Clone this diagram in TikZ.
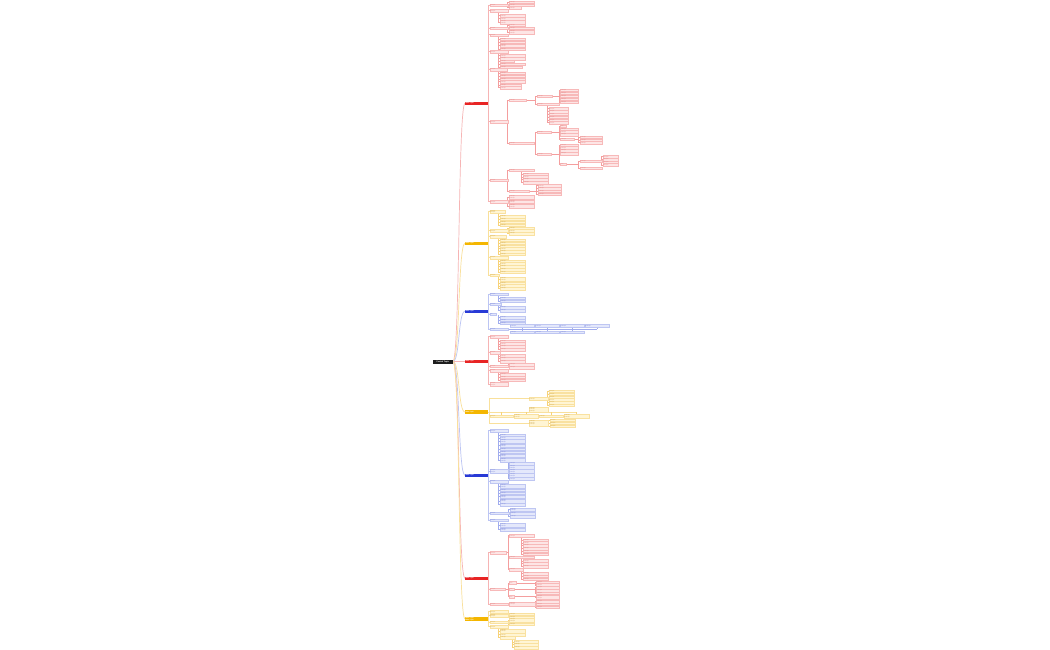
\documentclass[tikz,border=0pt]{standalone}
\usepackage{fontspec}
\setmainfont{Liberation Sans}
\pgfdeclarelayer{bg}
\pgfsetlayers{bg,main}
\definecolor{rM}{RGB}{232,36,36}
\definecolor{rF}{RGB}{253,229,229}
\definecolor{rD}{RGB}{247,185,185}
\definecolor{rT}{RGB}{246,180,180}
\definecolor{rL}{RGB}{244,158,158}
\definecolor{rX}{RGB}{222,135,135}
\definecolor{yM}{RGB}{244,182,0}
\definecolor{yF}{RGB}{255,245,212}
\definecolor{yD}{RGB}{249,225,160}
\definecolor{yT}{RGB}{249,224,155}
\definecolor{yL}{RGB}{247,210,120}
\definecolor{yX}{RGB}{205,165,80}
\definecolor{bM}{RGB}{40,58,214}
\definecolor{bF}{RGB}{228,232,251}
\definecolor{bD}{RGB}{190,198,242}
\definecolor{bT}{RGB}{188,197,243}
\definecolor{bL}{RGB}{160,172,238}
\definecolor{bX}{RGB}{125,135,215}
\definecolor{rootc}{RGB}{30,30,30}
\tikzset{
  nb/.style={anchor=west, inner xsep=0.3pt, inner ysep=0.4pt, minimum height=2.5pt,
    align=left, font=\fontsize{1.4}{1.6}\selectfont, line width=0.25pt},
  mb/.style={anchor=west, text width=22pt, inner xsep=0.3pt, inner ysep=0.5pt,
    minimum height=3.2pt, align=left, font=\fontsize{1.6}{1.9}\selectfont\bfseries, text=white},
  ch/.style={fill=rF, draw=rD, text=rX},
  lk/.style={draw=rL, line width=.45pt},
  lk1/.style={draw=rT, line width=.8pt}
}
\newcommand\TxA{Subtopic}
\newcommand\TxS{Item}
\newcommand\TxB{Subtopic\\Subtopic}
\newcommand\TxC{Subtopic\\Subtopic\\Subtopic}
\newcommand\MN[5]{\node[nb,ch,text width=#4pt] (#1) at (#2,#3) {#5};}
\newcommand\Kids[3]{\foreach \yq/\wq/\tq [count=\iq] in {#3}{\MN{#1\iq}{#2}{\yq}{\wq}{\tq}}}
\newcommand\CRx[4][lk]{\foreach \iq in {1,...,#4}{\draw[#1] (#2.east) -- ([xshift=-1.3pt]#3\iq.west |- #2.east) |- (#3\iq.west);}}
\newcommand\CR[3][lk]{\CRx[#1]{#2}{#2}{#3}}
\newcommand\CD[3][lk]{\foreach \iq in {1,...,#3}{\draw[#1] ([xshift=-1.3pt]#2\iq.west |- #2.south) |- (#2\iq.west);}}
\begin{document}
\begin{tikzpicture}[x=1pt,y=-1pt,
  redset/.style={ch/.style={fill=rF,draw=rD,text=rX},lk/.style={draw=rL,line width=.45pt},lk1/.style={draw=rT,line width=.8pt}},
  yelset/.style={ch/.style={fill=yF,draw=yD,text=yX},lk/.style={draw=yL,line width=.45pt},lk1/.style={draw=yT,line width=.8pt}},
  bluset/.style={ch/.style={fill=bF,draw=bD,text=bX},lk/.style={draw=bL,line width=.45pt},lk1/.style={draw=bT,line width=.8pt}}]
\useasboundingbox (0,0) rectangle (1050,650);
\begin{pgfonlayer}{bg}
\fill[white] (0,0) rectangle (1050,650);
\end{pgfonlayer}

% root and main branches
\node[anchor=west, fill=rootc, text=white, minimum width=20pt, minimum height=4pt, inner sep=0pt,
  font=\fontsize{2}{2.4}\selectfont\bfseries] (root) at (432.5,361.5) {Central Topic};
\node[mb,fill=rM] (b1) at (465,103.3) {Main Topic};
\node[mb,fill=yM] (b2) at (465,243.3) {Main Topic};
\node[mb,fill=bM] (b3) at (465,311.3) {Main Topic};
\node[mb,fill=rM] (b4) at (465,361.5) {Main Topic};
\node[mb,fill=yM] (b5) at (465,412) {Main Topic};
\node[mb,fill=bM] (b6) at (465,475.3) {Main Topic};
\node[mb,fill=rM] (b7) at (465,578.3) {Main Topic};
\node[mb,fill=yM] (b8) at (465,619) {Main Topic\\Main Topic};
\begin{pgfonlayer}{bg}
\foreach \bq/\cq in {b1/rT,b2/yT,b3/bT,b4/rT,b5/yT,b6/bT,b7/rT,b8/yT}
  {\draw[draw=\cq, line width=.7pt] (root.east) .. controls +(7,0) and +(-7,0) .. (\bq.west);}
\end{pgfonlayer}

% ---------------- branch 1 (red)
\begin{scope}[redset]
\Kids{a}{489.5}{5/17.5/\TxA,10.7/17.5/\TxA,28.3/17.5/\TxA,34.9/18/\TxA,51.8/17.5/\TxA,69.5/16.5/\TxA,121.7/17.5/\TxA,180/18/\TxA,201.7/17.5/\TxA}
\Kids{a1}{509}{2.3/24.5/\TxA,5/24.5/\TxA,7.7/11/\TxA}
\Kids{a2}{500}{15.7/24.5/\TxA,18.7/24.5/\TxA,22.2/24.5/\TxB}
\Kids{a3}{509}{25.3/15/\TxA,28.3/24.5/\TxA,32/24.5/\TxB}
\Kids{a4}{500}{39.3/24.5/\TxA,42.2/24.5/\TxA,45.6/24.5/\TxB,49.2/24.5/\TxA}
\Kids{a5}{500}{55.7/24.5/\TxA,58.5/24.5/\TxA,61.3/13/\TxA,64.1/24.5/\TxA,66.9/21/\TxA}
\Kids{a6}{500}{73.3/24.5/\TxA,76.1/24.5/\TxA,78.9/24.5/\TxA,81.7/24.5/\TxA,84.9/20/\TxA,87.7/20/\TxA}
\Kids{a7}{509}{100/16/\TxA,143.3/24.5/\TxA}
\Kids{a71}{537}{96/14.5/\TxA,104.3/21/\TxA}
\Kids{a711}{560.3}{90/17.5/\TxA,93/17.5/\TxA,96/17.5/\TxA,99/17.5/\TxA,102/17.5/\TxA}
\Kids{a712}{548.5}{108.7/19/\TxA,111.5/19/\TxA,114.3/19/\TxA,117.1/19/\TxA,119.9/19/\TxA,122.7/19/\TxA}
\Kids{a72}{537}{132.3/13/\TxA,154.3/13/\TxA}
\Kids{a721}{560.3}{126/5/\TxS,128.9/17.5/\TxA,131.7/17.5/\TxA,134.5/17.5/\TxA,139.3/13/\TxA}
\Kids{a7215}{580}{137.3/21.5/\TxA,140/21.5/\TxA,142.7/21.5/\TxA}
\Kids{a722}{560.3}{145/17.5/\TxA,147.8/17.5/\TxA,150.6/17.5/\TxA,153.4/17.5/\TxA,164.3/5/\TxS}
\Kids{a7225}{580}{161/21.5/\TxA,168.3/21.5/\TxA}
\Kids{a72251}{602.7}{156.7/14.5/\TxA,159.4/14.5/\TxA,162.1/14.5/\TxA,164.8/14.5/\TxA}
\Kids{a8}{509}{170/24.5/\TxA,191/19/\TxA}
\Kids{a81}{523}{174/24/\TxA,176.8/24/\TxA,179.6/24/\TxA,182.4/24/\TxA}
\Kids{a82}{538}{185.7/22/\TxA,188.5/22/\TxA,191.3/22/\TxA,194.1/22/\TxA}
\Kids{a9}{509}{197.4/24.5/\TxB,201.7/24.5/\TxB,206/24.5/\TxB}
\begin{pgfonlayer}{bg}
\CRx[lk1]{b1}{a}{9}
\CR{a1}{3} \CD{a2}{3} \CR{a3}{3} \CD{a4}{4} \CD{a5}{5} \CD{a6}{6}
\CR{a7}{2} \CR{a71}{2} \CR{a711}{5} \CD{a712}{6}
\CR{a72}{2} \CR{a721}{5} \CR{a7215}{3} \CR{a722}{5} \CR{a7225}{2} \CR{a72251}{4}
\CR{a8}{2} \CD{a81}{4} \CR{a82}{4} \CR{a9}{3}
\end{pgfonlayer}
\end{scope}

% ---------------- branch 2 (yellow)
\begin{scope}[yelset]
\Kids{f}{489.5}{211.7/15/\TxB,230.7/17.5/\TxA,236.4/16/\TxA,257.5/17.5/\TxA,275/9/\TxA}
\Kids{f1}{500}{216.5/24.5/\TxA,219.3/24.5/\TxA,222.1/24.5/\TxA,224.9/24.5/\TxA}
\Kids{f2}{509}{228/24/\TxA,230.8/24/\TxA,233.6/24/\TxA}
\Kids{f3}{500}{240.3/24.5/\TxA,243.1/24.5/\TxA,245.9/24.5/\TxA,248.7/24.5/\TxA,251.5/24.5/\TxA,254.3/24.5/\TxA}
\Kids{f4}{500}{261/24.5/\TxA,263.8/24.5/\TxA,266.6/24.5/\TxA,269.4/24.5/\TxA,272.2/24.5/\TxA}
\Kids{f5}{500}{279.4/24.5/\TxB,283/24.5/\TxA,285.8/24.5/\TxA,288.6/24.5/\TxA}
\begin{pgfonlayer}{bg}
\CRx[lk1]{b2}{f}{5}
\CD{f1}{4} \CR{f2}{3} \CD{f3}{6} \CD{f4}{5} \CD{f5}{4}
\end{pgfonlayer}
\end{scope}

% ---------------- branch 3 (blue)
\begin{scope}[bluset]
\Kids{g}{489.5}{294/17.5/\TxA,304.3/10.5/\TxA,314/6/\TxS,329/17.5/\TxA}
\Kids{g1}{500}{298.3/24.5/\TxA,301.1/24.5/\TxA}
\Kids{g2}{500}{307.6/24.5/\TxA,310.4/24.5/\TxA}
\Kids{g3}{500}{317.5/24.5/\TxA,320.3/24.5/\TxA,323.1/24.5/\TxA}
\MN{gt1}{510.3}{325.7}{23}{\TxA}
\MN{gt2}{535.3}{325.7}{23}{\TxA}
\MN{gt3}{560.3}{325.7}{23}{\TxA}
\MN{gt4}{585}{325.7}{23}{\TxA}
\MN{gu1}{510.3}{332.3}{23}{\TxA}
\MN{gu2}{535.3}{332.3}{23}{\TxA}
\MN{gu3}{560.3}{332.3}{23}{\TxA}
\begin{pgfonlayer}{bg}
\CRx[lk1]{b3}{g}{4}
\CD{g1}{2} \CD{g2}{2} \CD{g3}{3}
\draw[lk] (g4.east) -- (g4.east -| gt4.south);
\foreach \iq in {1,...,4}{\draw[lk] (gt\iq.south) -- (gt\iq.south |- g4.east);}
\foreach \iq in {1,...,3}{\draw[lk] (gu\iq.north) -- (gu\iq.north |- g4.east);}
\end{pgfonlayer}
\end{scope}

% ---------------- branch 4 (red)
\begin{scope}[redset]
\Kids{i}{489.5}{336.7/18/\TxA,352.6/10/\TxA,366/17.5/\TxA,370.6/17.5/\TxA,384.2/17.5/\TxB}
\Kids{i1}{500}{341/24.5/\TxA,343.8/24.5/\TxA,346.6/24.5/\TxA,349.4/24.5/\TxA}
\Kids{i2}{500}{355.8/24.5/\TxA,358.6/24.5/\TxA,361.4/24.5/\TxA}
\Kids{i3}{509.3}{364.4/24.5/\TxA,367.6/24.5/\TxA}
\Kids{i4}{500}{374.4/24.5/\TxA,377.2/24.5/\TxA,380/24.5/\TxA}
\begin{pgfonlayer}{bg}
\CRx[lk1]{b4}{i}{5}
\CD{i1}{4} \CD{i2}{3} \CR{i3}{2} \CD{i4}{3}
\end{pgfonlayer}
\end{scope}

% ---------------- branch 5 (yellow)
\begin{scope}[yelset]
\MN{j1}{529}{398.7}{18.5}{\TxA}
\MN{j2}{529}{409.3}{18}{\TxC}
\MN{j3}{529}{423}{18.5}{\TxC}
\Kids{j1}{548.5}{391.3/25/\TxA,394.1/25/\TxA,396.9/25/\TxA,399.7/25/\TxA,402.5/25/\TxA,405.3/25/\TxA}
\Kids{j3}{549.7}{420.3/24.3/\TxA,423.1/24.3/\TxA,425.9/24.3/\TxA}
\MN{jr1}{489.5}{416.3}{23}{\TxA}
\MN{jr2}{514}{416.3}{23.3}{\TxB}
\MN{jr3}{539}{416.3}{23.3}{\TxA}
\MN{jr4}{564}{416.3}{24}{\TxB}
\begin{pgfonlayer}{bg}
\draw[lk1] (b5.east) -- ++(1.2pt,0) |- (j1.west);
\draw[lk1] (b5.east) -- ++(1.2pt,0) |- (j3.west);
\draw[lk1] (b5.east) -- (b5.east -| jr4.north);
\foreach \iq in {1,...,4}{\draw[lk] (jr\iq.north) -- (jr\iq.north |- b5.east);}
\draw[lk] (j2.south) -- (j2.south |- b5.east);
\CR{j1}{6} \CR{j3}{3}
\end{pgfonlayer}
\end{scope}

% ---------------- branch 6 (blue)
\begin{scope}[bluset]
\Kids{k}{489.5}{430.7/17.5/\TxA,470.9/17.5/\TxB,481.6/17.5/\TxA,513.3/18.5/\TxA,520.3/17.5/\TxA}
\Kids{k1}{500}{435/24.5/\TxA,437.8/24.5/\TxA,441.1/24.5/\TxB,445.6/24.5/\TxB,449.2/24.5/\TxA,452.1/24.5/\TxA,455.6/24.5/\TxB,460.1/24.5/\TxB}
\Kids{k2}{509.3}{463.6/24.5/\TxA,467/24.5/\TxB,471.1/24.5/\TxB,475.2/24.5/\TxB,478.7/24.5/\TxA}
\Kids{k3}{500}{486.4/24.5/\TxB,490.1/24.5/\TxA,492.9/24.5/\TxA,496.6/24.5/\TxB,500.8/24.5/\TxB,504.6/24.5/\TxA}
\Kids{k4}{510}{509.6/24/\TxB,513.6/24/\TxA,516.5/24/\TxA}
\Kids{k5}{500}{525.3/24.5/\TxB,529.6/24.5/\TxB}
\begin{pgfonlayer}{bg}
\CRx[lk1]{b6}{k}{5}
\CD{k1}{8} \CR{k2}{5} \CD{k3}{6} \CR{k4}{3} \CD{k5}{2}
\end{pgfonlayer}
\end{scope}

% ---------------- branch 7 (red)
\begin{scope}[redset]
\Kids{l}{489.5}{552.7/16/\TxA,589.3/15/\TxA,604/18/\TxA}
\Kids{l1}{509.3}{535.7/24.5/\TxA,557/24.5/\TxA,569.6/13/\TxA}
\Kids{l11}{523}{540/24/\TxA,542.8/24/\TxA,545.6/24/\TxA,548.4/24/\TxA,551.2/24/\TxA,554/24/\TxA}
\Kids{l12}{523}{560.8/24/\TxA,563.6/24/\TxA,566.4/24/\TxA}
\Kids{l13}{523}{573.4/24/\TxA,576.2/24/\TxA,579/24/\TxA}
\Kids{l2}{509.3}{582.8/6/\TxS,589/4.5/\TxS,596.6/4.5/\TxS}
\Kids{l21}{536.3}{582/22.5/\TxA,584.8/22.5/\TxA}
\Kids{l22}{536.3}{587.6/22.5/\TxA,590.4/22.5/\TxA,593.2/22.5/\TxA}
\Kids{l23}{536.3}{596.9/22.5/\TxB}
\Kids{l3}{509.3}{603.8/25/\TxB}
\Kids{l31}{536.3}{601.5/22.5/\TxA,604.3/22.5/\TxA,607.1/22.5/\TxA}
\begin{pgfonlayer}{bg}
\CRx[lk1]{b7}{l}{3}
\CR{l1}{3} \CD{l11}{6} \CD{l12}{3} \CD{l13}{3}
\CR{l2}{3} \CR{l21}{2} \CR{l22}{3} \CR{l23}{1}
\CR{l3}{1} \CR{l31}{3}
\end{pgfonlayer}
\end{scope}

% ---------------- branch 8 (yellow)
\begin{scope}[yelset]
\Kids{p}{489.5}{611.7/17.5/\TxA,615.7/17.5/\TxB,622/17.5/\TxA,626.8/17.5/\TxA}
\Kids{p2}{509.3}{614.3/24.5/\TxA,617.1/24.5/\TxA}
\Kids{p3}{509.3}{620.3/24.5/\TxB,624.1/24.5/\TxA}
\Kids{p4}{500}{630.8/24.5/\TxB,634.7/24.5/\TxA,637.5/14/\TxA}
\Kids{p43}{514}{641.8/23/\TxA,644.6/23/\TxA,647.4/23/\TxA}
\begin{pgfonlayer}{bg}
\CRx[lk1]{b8}{p}{4}
\CR{p2}{2} \CR{p3}{2} \CD{p4}{3} \CD{p43}{3}
\end{pgfonlayer}
\end{scope}
\end{tikzpicture}
\end{document}
